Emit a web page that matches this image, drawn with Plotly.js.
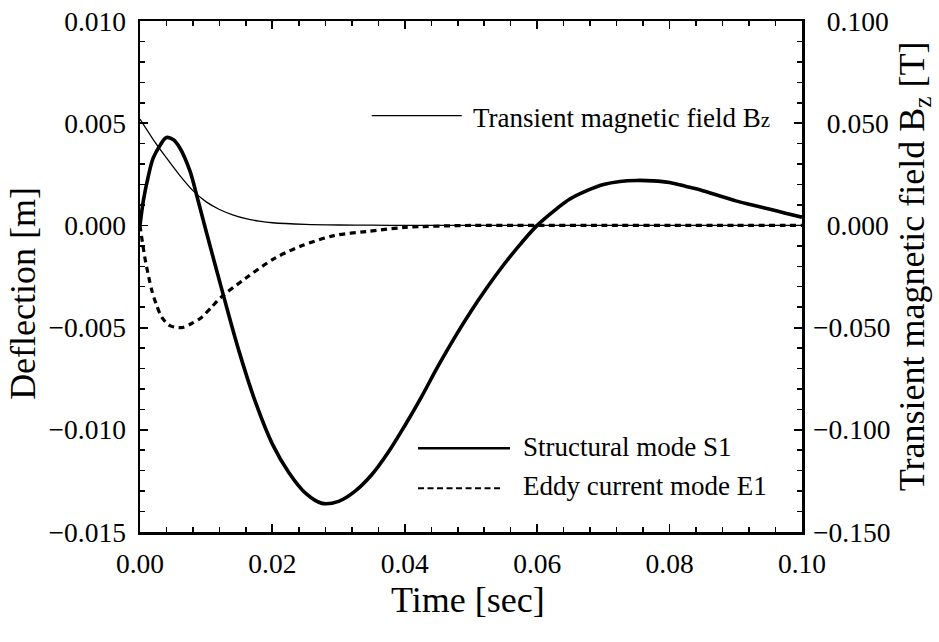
<!DOCTYPE html>
<html>
<head>
<meta charset="utf-8">
<script src="https://cdn.plot.ly/plotly-3.0.1.min.js"></script>
<style>html,body{margin:0;padding:0;background:#fff;}#chart{width:939px;height:642px;}</style>
</head>
<body>
<div id="chart"></div>
<script>
// ---- Data ----
// Structural mode S1 (deflection, m)
var timeS1 = [0, 0.0005, 0.00125, 0.002, 0.003, 0.004, 0.005, 0.006, 0.0075, 0.0087, 0.010, 0.0125, 0.015, 0.0175, 0.020, 0.0225, 0.025, 0.0275, 0.030, 0.0325, 0.035, 0.0375, 0.040, 0.0425, 0.045, 0.0475, 0.050, 0.0525, 0.055, 0.0575, 0.060, 0.0625, 0.065, 0.0675, 0.070, 0.0725, 0.075, 0.0775, 0.080, 0.0825, 0.085, 0.0875, 0.090, 0.0925, 0.095, 0.0975, 0.100];
var deflS1 = [0, 0.0012, 0.0024, 0.0033, 0.0039, 0.0043, 0.0042, 0.0038, 0.0027, 0.0013, -0.0003, -0.0033, -0.0062, -0.0087, -0.0107, -0.0121, -0.0131, -0.0136, -0.0135, -0.0130, -0.0122, -0.0111, -0.0098, -0.0084, -0.0069, -0.0055, -0.0042, -0.0030, -0.0019, -0.0009, 0.0000, 0.0007, 0.0013, 0.0017, 0.0020, 0.00215, 0.0022, 0.00218, 0.0021, 0.0019, 0.0017, 0.00145, 0.0012, 0.0010, 0.0008, 0.0006, 0.0004];

// Eddy current mode E1 (deflection, m)
var timeE1 = [0, 0.0004, 0.0008, 0.0013, 0.0018, 0.0025, 0.0033, 0.0045, 0.0063, 0.0078, 0.0093, 0.0108, 0.0123, 0.0159, 0.0204, 0.0244, 0.0293, 0.0342, 0.0400, 0.0500, 0.0600, 0.0700, 0.0800, 0.0900, 0.1000];
var deflE1 = [0, -0.0009, -0.0017, -0.0025, -0.0032, -0.0039, -0.0045, -0.0049, -0.0050, -0.0048, -0.0045, -0.0040, -0.0035, -0.0026, -0.0016, -0.0010, -0.0005, -0.0003, -0.0001, 0, 0, 0, 0, 0, 0];

// Transient magnetic field Bz (T)
var timeBz = [0, 0.002, 0.004, 0.006, 0.008, 0.010, 0.012, 0.014, 0.016, 0.018, 0.020, 0.025, 0.030, 0.035, 0.040, 0.050, 0.060, 0.070, 0.080, 0.090, 0.100];
var fieldBz = [0.052, 0.042, 0.033, 0.0245, 0.0170, 0.0115, 0.0078, 0.0052, 0.0033, 0.0021, 0.0013, 0.0005, 0.0002, 0.0001, 0, 0, 0, 0, 0, 0, 0];

// Tick labels
var xTickVals = [0, 0.02, 0.04, 0.06, 0.08, 0.10];
var xTickText = ['0.00', '0.02', '0.04', '0.06', '0.08', '0.10'];
var yTickVals = [-0.015, -0.010, -0.005, 0, 0.005, 0.010];
var yTickText = ['\u22120.015', '\u22120.010', '\u22120.005', '0.000', '0.005', '0.010'];
var y2TickVals = [-0.150, -0.100, -0.050, 0, 0.050, 0.100];
var y2TickText = ['\u22120.150', '\u22120.100', '\u22120.050', '\u20070.000', '\u20070.050', '\u20070.100'];

// Legend labels and titles
var labelBz = 'Transient magnetic field B<span style="font-size:21px">z</span>';
var labelS1 = 'Structural mode S1';
var labelE1 = 'Eddy current mode E1';
var titleX = 'Time [sec]';
var titleY = 'Deflection [m]';
var titleY2 = 'Transient magnetic field B<sub>z</sub> [T]';

var FONT = 'Liberation Serif';

var traces = [
  {x: timeBz, y: fieldBz, yaxis: 'y2', mode: 'lines', name: 'Bz',
   line: {color: '#000', width: 1.3, shape: 'spline', smoothing: 0.8}, showlegend: false, hoverinfo: 'skip'},
  {x: timeE1, y: deflE1, mode: 'lines', name: labelE1,
   line: {color: '#000', width: 3.2, dash: '6px,4.5px', shape: 'spline', smoothing: 0.8}, showlegend: false, hoverinfo: 'skip'},
  {x: timeS1, y: deflS1, mode: 'lines', name: labelS1,
   line: {color: '#000', width: 3.6, shape: 'spline', smoothing: 1}, showlegend: false, hoverinfo: 'skip'}
];

var tickFont = {family: FONT, size: 27.5, color: '#000'};
var axisCommon = {
  showgrid: false, zeroline: false, showline: true, linecolor: '#000', linewidth: 2.5,
  ticks: 'inside', ticklen: 8, tickwidth: 1.8, tickcolor: '#000', tickfont: tickFont,
  tickmode: 'array'
};
var titleFont = {family: FONT, size: 36, color: '#000'};
var legFont = {family: FONT, size: 27, color: '#000'};

var layout = {
  width: 939, height: 642,
  margin: {l: 140, r: 137, t: 21, b: 110, pad: 0},
  paper_bgcolor: '#fff', plot_bgcolor: '#fff',
  font: {family: FONT, color: '#000'},
  xaxis: Object.assign({}, axisCommon, {
    range: [0, 0.1], tickvals: xTickVals, ticktext: xTickText, mirror: 'ticks',
    ticklabelstandoff: 5,
    minor: {dtick: 0.004, tick0: 0, ticks: 'inside', ticklen: 5, tickwidth: 1.5, tickcolor: '#000'}
  }),
  yaxis: Object.assign({}, axisCommon, {
    range: [-0.015, 0.010], tickvals: yTickVals, ticktext: yTickText,
    ticklabelstandoff: 6,
    minor: {dtick: 0.001, tick0: 0, ticks: 'inside', ticklen: 5, tickwidth: 1.5, tickcolor: '#000'}
  }),
  yaxis2: Object.assign({}, axisCommon, {
    range: [-0.150, 0.100], tickvals: y2TickVals, ticktext: y2TickText,
    overlaying: 'y', side: 'right', ticklabelstandoff: 3,
    minor: {dtick: 0.010, tick0: 0, ticks: 'inside', ticklen: 5, tickwidth: 1.5, tickcolor: '#000'}
  }),
  shapes: [
    {type: 'line', xref: 'paper', yref: 'paper', x0: 0.350, x1: 0.486, y0: 0.815, y1: 0.815, line: {color: '#000', width: 1.3}},
    {type: 'line', xref: 'paper', yref: 'paper', x0: 0.420, x1: 0.559, y0: 0.164, y1: 0.164, line: {color: '#000', width: 2.6}},
    {type: 'line', xref: 'paper', yref: 'paper', x0: 0.420, x1: 0.544, y0: 0.0858, y1: 0.0858, line: {color: '#000', width: 2, dash: '6px,3.5px'}}
  ],
  annotations: [
    {xref: 'paper', yref: 'paper', x: 0.500, y: 0.811, xanchor: 'left', yanchor: 'middle', showarrow: false,
     text: labelBz, font: legFont},
    {xref: 'paper', yref: 'paper', x: 0.575, y: 0.166, xanchor: 'left', yanchor: 'middle', showarrow: false,
     text: labelS1, font: legFont},
    {xref: 'paper', yref: 'paper', x: 0.575, y: 0.0897, xanchor: 'left', yanchor: 'middle', showarrow: false,
     text: labelE1, font: legFont},
    {xref: 'paper', yref: 'paper', x: 0, xshift: -117, y: 0.466, xanchor: 'center', yanchor: 'middle', textangle: -90, showarrow: false,
     text: titleY, font: titleFont},
    {xref: 'paper', yref: 'paper', x: 1, xshift: 112, y: 0.52, xanchor: 'center', yanchor: 'middle', textangle: -90, showarrow: false,
     text: titleY2, font: titleFont},
    {xref: 'paper', yref: 'paper', x: 0.495, y: 0, yshift: -68, xanchor: 'center', yanchor: 'middle', showarrow: false,
     text: titleX, font: titleFont}
  ],
  showlegend: false
};

Plotly.newPlot('chart', traces, layout, {displayModeBar: false, staticPlot: true});
</script>
</body>
</html>
